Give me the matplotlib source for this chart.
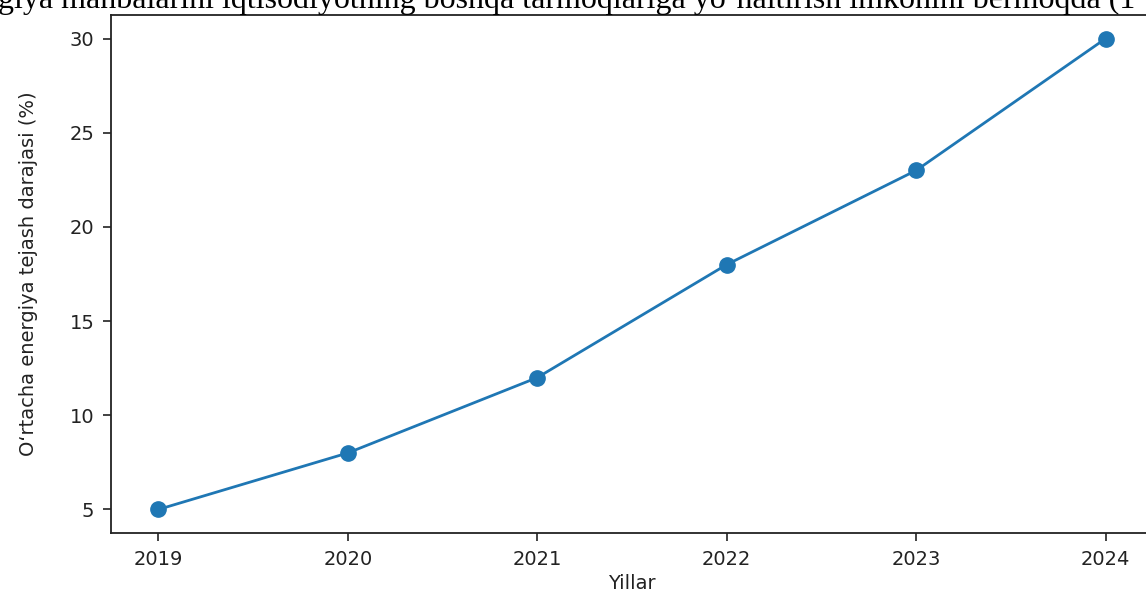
import matplotlib.pyplot as plt

# data
years = [2019, 2020, 2021, 2022, 2023, 2024]
saving = [5, 8, 12, 18, 23, 30]
ticks_y = [5, 10, 15, 20, 25, 30]

top_line = "giya manbalarini iqtisodiyotning boshqa tarmoqlariga yo\u2018naltirish imkonini bermoqda (1"

W, H = 1146, 590
fig = plt.figure(figsize=(W / 100, H / 100), dpi=100)

# axes runs off the right edge, like the cropped screenshot
ax = fig.add_axes([111 / W, 57 / H, 1042 / W, 518 / H])
ax.plot(years, saving, color='#1f77b4', linewidth=2, marker='o', markersize=11)

ax.set_xticks(years)
ax.set_yticks(ticks_y)
ax.set_xlim(2018.75, 2024.25)
ax.set_ylim(3.75, 31.25)

ax.tick_params(labelsize=14, length=6, width=1.2, pad=6, colors='#222222')
for s in ax.spines.values():
    s.set_linewidth(1.3)
    s.set_color('#222222')
ax.spines['right'].set_visible(False)

ax.set_xlabel('Yillar', fontsize=14, color='#222222')
ax.set_ylabel("O\u2018rtacha energiya tejash darajasi (%)", fontsize=14, color='#222222')
ax.xaxis.set_label_coords(0.5, -0.080)
ax.yaxis.set_label_coords(-0.070, 0.5)

# cut-off line of document text above the chart
fig.text(-0.002, 1 - 8 / H, top_line, fontsize=23, family='Liberation Serif',
         ha='left', va='baseline')

fig.savefig('out.png', dpi=100)
